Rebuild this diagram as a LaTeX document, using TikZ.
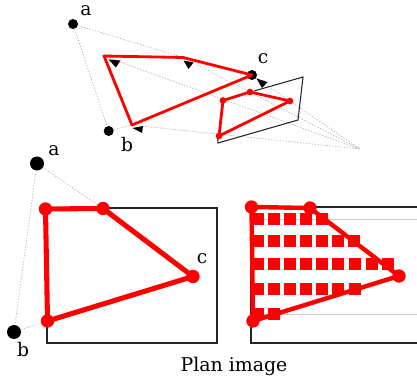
\documentclass[tikz,border=0pt]{standalone}
\usepackage{fontspec}
\setmainfont{DejaVu Serif}
\begin{document}
\begin{tikzpicture}[x=0.75pt,y=-0.75pt,
  guide/.style={draw=gray!60,line width=0.5pt,dash pattern=on 1pt off 1.2pt},
  redthin/.style={draw=red,line width=2.1pt,line join=round},
  redthick/.style={draw=red,line width=3.8pt,line join=round},
  frame/.style={draw=black!85,line width=0.8pt},
  blackdot/.style={circle,fill=black,inner sep=0pt,minimum size=7.5pt},
  bigblack/.style={circle,fill=black,inner sep=0pt,minimum size=10.5pt},
  reddot/.style={circle,fill=red,inner sep=0pt,minimum size=10pt},
  smallred/.style={circle,fill=red,inner sep=0pt,minimum size=5pt},
  cellsq/.style={fill=red,inner sep=0pt,minimum size=8.3pt},
  tip/.style={fill=black,draw=none},
  lab/.style={font=\fontsize{14pt}{16pt}\selectfont,inner sep=0pt},
  plan/.style={font=\fontsize{14.2pt}{16pt}\selectfont,inner sep=0pt}]
\useasboundingbox (0,0) rectangle (417,377);
% top view
\coordinate (vp) at (360,149);
\coordinate (t1) at (104,56);
\coordinate (t2) at (183,57.5);
\coordinate (t3) at (252,75);
\coordinate (t4) at (132,125);
\node[blackdot] (ta) at (73,24) {};
\node[blackdot] (tb) at (108.7,131) {};
\node[blackdot] (tc) at (252,75) {};
\draw[guide] (ta) -- (tb);
\draw[guide] (ta) -- (t2) -- (vp);
\draw[guide] (t1) -- (vp);
\draw[guide] (tb) -- (t4) -- (vp);
\draw[guide] (tc) -- (vp);
\draw[frame] (254,91) -- (303,77) -- (298,120) -- (218,143) -- (217.5,136);
\draw[redthin] (t1) -- (t2) -- (t3) -- (t4) -- cycle;
\node[smallred] (s1) at (223,100.5) {};
\node[smallred] (s2) at (250,92) {};
\node[smallred] (s3) at (290,101) {};
\node[smallred] (s4) at (219,136) {};
\draw[redthin] (s1.center) -- (s2.center) -- (s3.center) -- (s4.center) -- cycle;
\fill[tip] (108.5,59.5) -- (120.5,60.5) -- (116,67.5) -- cycle;
\fill[tip] (183.5,60.5) -- (193.5,62.5) -- (188.5,69) -- cycle;
\fill[tip] (256.5,78.5) -- (267.5,82) -- (262,88) -- cycle;
\fill[tip] (132.5,128) -- (143,126) -- (142,133) -- cycle;
\node[lab] (la) at (86,11) {a};
\node[lab] (lb) at (127,145) {b};
\node[lab] (lc) at (263,59) {c};
% left plan
\draw[frame] (47,208) rectangle (217,343);
\node[bigblack] (pa) at (37,163.5) {};
\node[bigblack] (pb) at (14,332) {};
\node[reddot] (p1) at (45.5,209) {};
\node[reddot] (p2) at (103,208.5) {};
\node[reddot] (p3) at (193,276.5) {};
\node[reddot] (p4) at (47.5,321) {};
\draw[guide] (pa) -- (pb);
\draw[guide] (pa) -- (p2);
\draw[guide] (pb) -- (p4);
\draw[redthick] (p1.center) -- (p2.center) -- (p3.center) -- (p4.center) -- cycle;
\node[lab] (pla) at (54,151) {a};
\node[lab] (plb) at (23,350) {b};
\node[lab] (plc) at (202,259) {c};
% right plan
\draw[frame] (417,207) -- (251,207) -- (251,343) -- (417,343);
\foreach \yy in {219,314} \draw[draw=gray!40,line width=0.7pt] (251,\yy) -- (417,\yy);
\foreach \xx in {258,274,290,306,322} \node[cellsq] at (\xx,219) {};
\foreach \xx in {258,274,290,306,322,338,354} \node[cellsq] at (\xx,241) {};
\foreach \xx in {258,274,290,306,322,338,355,372,388} \node[cellsq] at (\xx,264) {};
\foreach \xx in {258,274,290,306,322,338,355} \node[cellsq] at (\xx,289) {};
\foreach \xx in {258,274} \node[cellsq] at (\xx,314) {};
\node[reddot] (q1) at (251.5,207) {};
\node[reddot] (q2) at (310,208) {};
\node[reddot] (q3) at (399,276) {};
\node[reddot] (q4) at (253,321) {};
\draw[redthick,line width=3.3pt] (q1.center) -- (q2.center) -- (q3.center) -- (q4.center) -- cycle;
\node[plan] (title) at (234,366) {Plan image};
\end{tikzpicture}
\end{document}
